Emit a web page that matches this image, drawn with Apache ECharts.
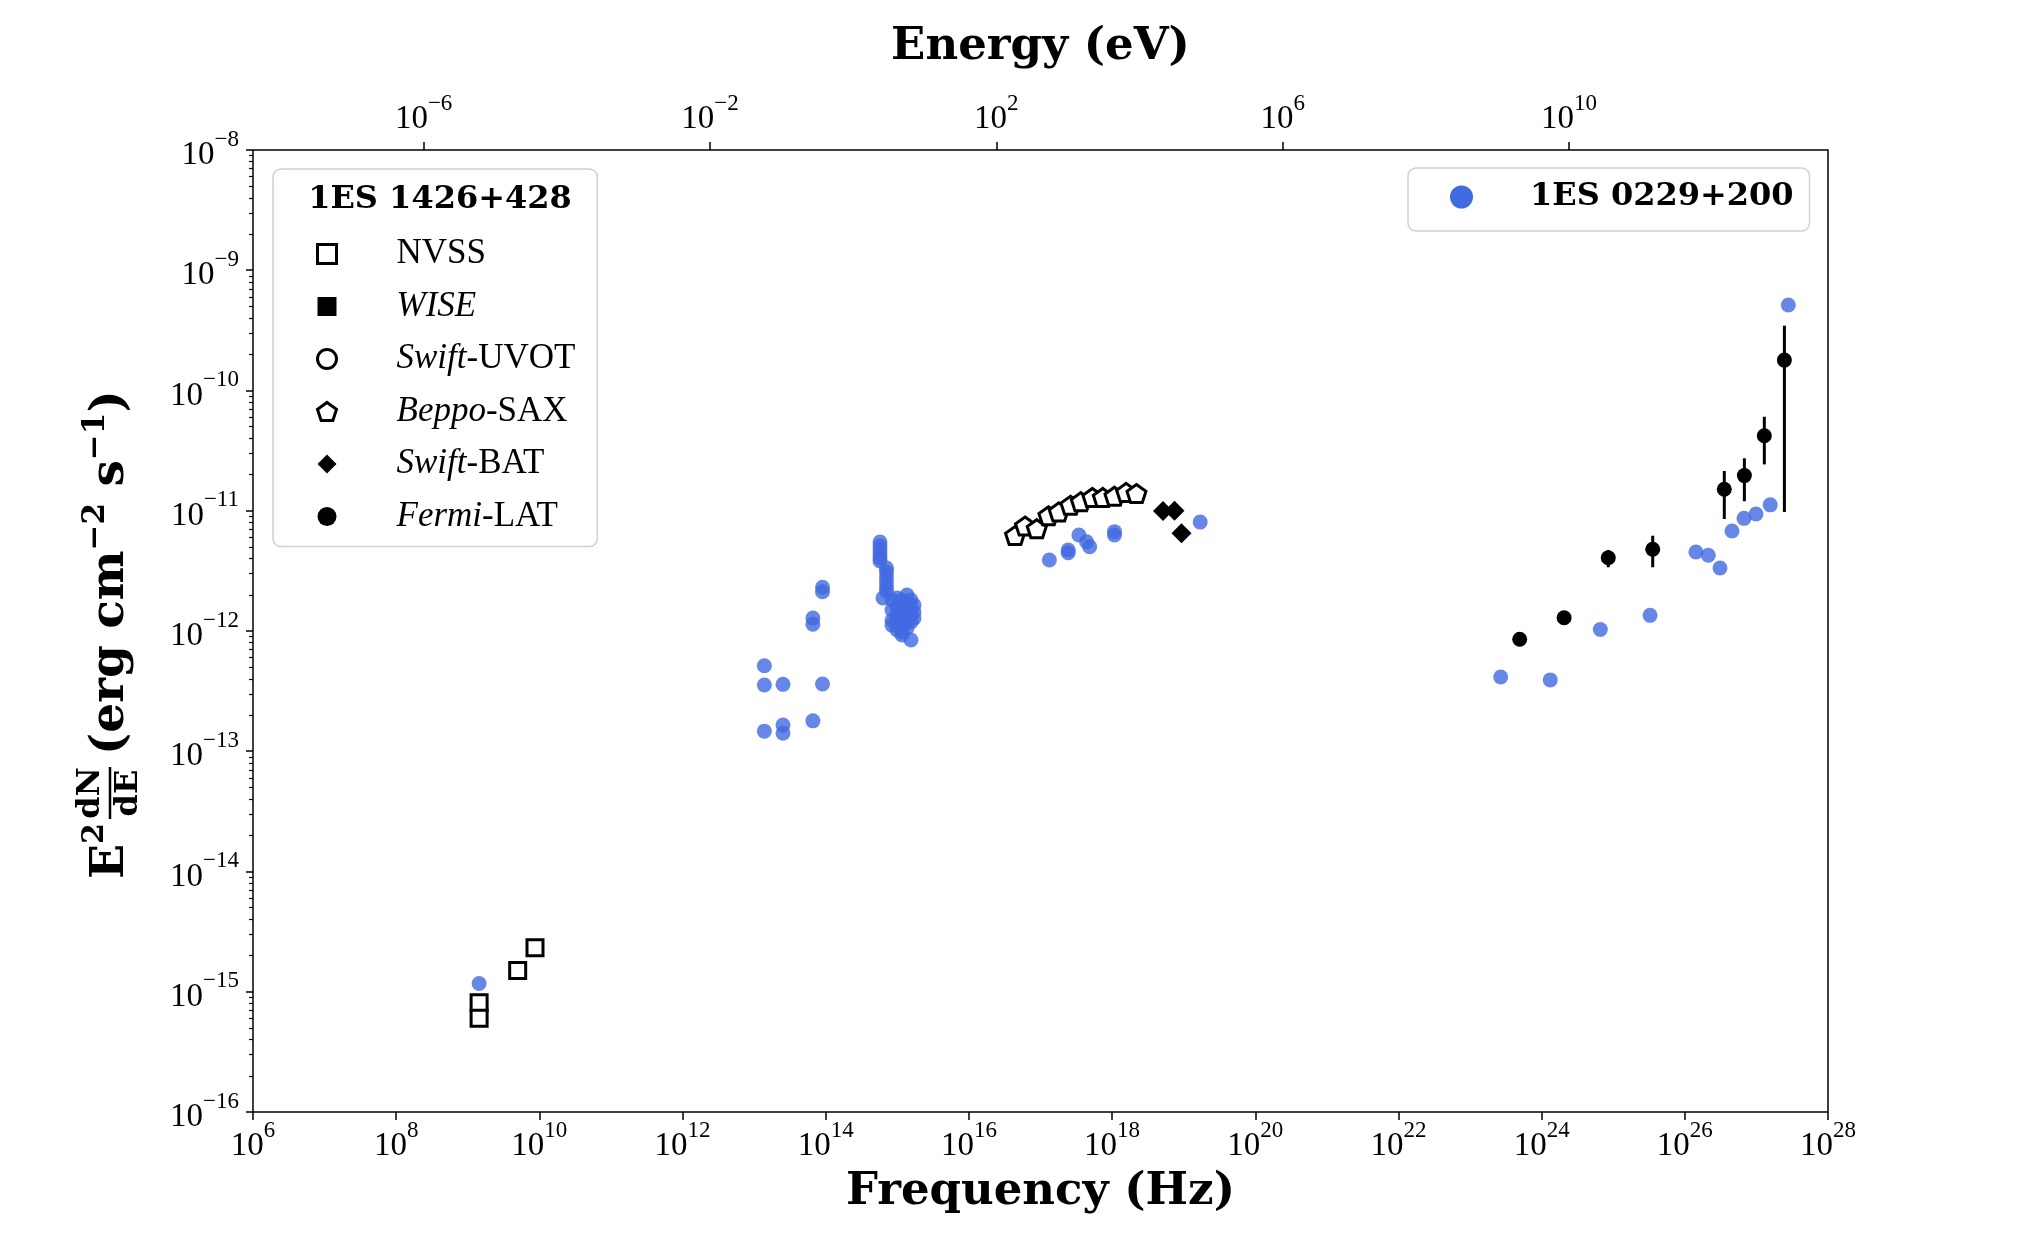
<!DOCTYPE html>
<html><head><meta charset="utf-8">
<script src="https://cdn.jsdelivr.net/npm/echarts@6/dist/echarts.min.js"></script>
<style>html,body{margin:0;padding:0;background:#fff}#c{width:2032px;height:1250px}</style>
</head><body><div id="c"></div>
<script>
// ---- Data (frequency in Hz, nuFnu in erg cm^-2 s^-1) ----
const nvssFreq = [1.44e9, 1.44e9, 4.98e9, 8.69e9];
const nvssFlux = [8.11e-16, 6.01e-16, 1.50e-15, 2.32e-15];

const beppoFreq = [4.41e16, 6.08e16, 8.86e16, 1.29e17, 1.80e17, 2.62e17, 3.66e17, 5.31e17, 7.42e17, 1.08e18, 1.57e18, 2.19e18];
const beppoFlux = [6.22e-12, 7.46e-12, 7.09e-12, 9.08e-12, 9.78e-12, 1.11e-11, 1.19e-11, 1.29e-11, 1.29e-11, 1.32e-11, 1.42e-11, 1.39e-11];

const batFreq = [5.14e18, 7.45e18, 9.33e18];
const batFlux = [9.95e-12, 1.00e-11, 6.49e-12];

const fermiFreq = [4.94e23, 2.06e24, 8.53e24, 3.56e25, 3.56e26, 6.79e26, 1.29e27, 2.46e27];
const fermiFlux = [8.53e-13, 1.29e-12, 4.07e-12, 4.78e-12, 1.51e-11, 1.96e-11, 4.21e-11, 1.79e-10];
const fermiLow  = [8.30e-13, 1.22e-12, 3.39e-12, 3.39e-12, 8.54e-12, 1.20e-11, 2.43e-11, 9.77e-12];
const fermiHigh = [8.80e-13, 1.34e-12, 4.71e-12, 6.20e-12, 2.14e-11, 2.73e-11, 6.05e-11, 3.46e-10];

const blueFreq = [
  1.44e9,
  1.39e13, 1.39e13, 1.39e13, 2.53e13, 2.53e13, 2.53e13,
  6.62e13, 6.62e13, 6.62e13, 9.02e13, 9.02e13, 9.02e13,
  5.73e14, 5.73e14, 5.73e14, 5.73e14, 5.73e14, 5.73e14,
  7.06e14, 7.06e14, 7.06e14, 7.06e14, 7.06e14, 7.06e14,
  6.31e14,
  8.43e14, 8.43e14, 8.43e14, 8.43e14,
  9.91e14, 9.91e14, 9.91e14, 9.91e14, 9.91e14,
  1.164e15, 1.164e15, 1.164e15, 1.164e15, 1.164e15, 1.164e15,
  1.366e15, 1.366e15, 1.366e15, 1.366e15, 1.366e15,
  1.552e15, 1.552e15, 1.552e15, 1.552e15, 1.552e15,
  1.71e15, 1.71e15, 1.71e15,
  1.33e17, 2.44e17, 2.44e17, 3.44e17, 4.40e17, 4.86e17, 1.08e18, 1.08e18, 1.70e19,
  2.68e23, 1.32e24, 6.60e24, 3.27e25, 1.43e26, 2.13e26, 3.10e26, 4.56e26, 6.71e26, 9.87e26, 1.56e27, 2.79e27
];
const blueFlux = [
  1.17e-15,
  5.14e-13, 3.56e-13, 1.47e-13, 3.60e-13, 1.65e-13, 1.41e-13,
  1.79e-13, 1.28e-12, 1.14e-12, 3.62e-13, 2.31e-12, 2.12e-12,
  5.50e-12, 5.09e-12, 4.72e-12, 4.37e-12, 4.05e-12, 3.82e-12,
  3.34e-12, 3.10e-12, 2.81e-12, 2.55e-12, 2.32e-12, 2.15e-12,
  1.88e-12,
  1.81e-12, 1.50e-12, 1.23e-12, 1.12e-12,
  1.88e-12, 1.61e-12, 1.36e-12, 1.19e-12, 1.02e-12,
  1.81e-12, 1.55e-12, 1.33e-12, 1.14e-12, 9.81e-13, 9.27e-13,
  1.99e-12, 1.71e-12, 1.44e-12, 1.23e-12, 1.06e-12,
  1.81e-12, 1.55e-12, 1.36e-12, 1.19e-12, 8.41e-13,
  1.64e-12, 1.44e-12, 1.28e-12,
  3.89e-12, 4.72e-12, 4.48e-12, 6.28e-12, 5.53e-12, 5.02e-12, 6.70e-12, 6.28e-12, 8.05e-12,
  4.14e-13, 3.92e-13, 1.03e-12, 1.35e-12, 4.54e-12, 4.27e-12, 3.34e-12, 6.79e-12, 8.65e-12, 9.40e-12, 1.12e-11, 5.14e-10
];

// ---- Tick values ----
const freqTicks = [1e6, 1e8, 1e10, 1e12, 1e14, 1e16, 1e18, 1e20, 1e22, 1e24, 1e26, 1e28];
const energyTicks = [1e-6, 1e-2, 1e2, 1e6, 1e10];
const fluxTicks = [1e-16, 1e-15, 1e-14, 1e-13, 1e-12, 1e-11, 1e-10, 1e-9, 1e-8];
const PLANCK_EV = 4.135667696e-15;

const fluxMinorTicks = [];
for (let e = -16; e < -8; e++) for (let m = 2; m <= 9; m++) fluxMinorTicks.push(m * Math.pow(10, e));

const zip = (a, b) => a.map((v, i) => [v, b[i]]);

const SERIF = 'Liberation Serif';
const BOLD = 'DejaVu Serif';
const BLUE = '#4169E1';
const PENTAGON = 'path://M50,0 L97.6,34.5 L79.4,90.5 L20.6,90.5 L2.4,34.5 Z';

function powLabel(v) {
  const e = Math.round(Math.log10(v));
  return '{b|10}{s|' + (e < 0 ? '\u2212' + (-e) : String(e)) + '}';
}
const tickRich = {
  b: {fontFamily: SERIF, fontSize: 33, lineHeight: 44, verticalAlign: 'bottom', color: '#000'},
  s: {fontFamily: SERIF, fontSize: 23, lineHeight: 24, verticalAlign: 'top', color: '#000'}
};
const nameStyle = {fontFamily: BOLD, fontWeight: 'bold', fontSize: 45, color: '#000'};

const legendNames = {
  'NVSS': 'NVSS', 'WISE': '{i|WISE}', 'Swift-UVOT': '{i|Swift}-UVOT',
  'Beppo-SAX': '{i|Beppo}-SAX', 'Swift-BAT': '{i|Swift}-BAT', 'Fermi-LAT': '{i|Fermi}-LAT'
};

const chart = echarts.init(document.getElementById('c'), null, {renderer: 'canvas'});
const gridPos = {left: 253, top: 150, width: 1575, height: 962};

chart.setOption({
  animation: false,
  backgroundColor: '#fff',
  grid: [
    Object.assign({show: true, borderColor: '#000', borderWidth: 1.5, backgroundColor: 'transparent'}, gridPos),
    Object.assign({show: false}, gridPos)
  ],
  xAxis: [
    {
      type: 'log', logBase: 10, gridIndex: 0, position: 'bottom', min: 1e6, max: 1e28,
      axisLine: {show: false}, splitLine: {show: false}, minorTick: {show: false},
      axisTick: {show: true, length: 8, lineStyle: {color: '#000', width: 1.5}, customValues: freqTicks},
      axisLabel: {customValues: freqTicks, formatter: powLabel, margin: 7, rich: tickRich},
      name: 'Frequency (Hz)', nameLocation: 'middle', nameGap: 58, nameTextStyle: nameStyle
    },
    {
      type: 'log', logBase: 10, gridIndex: 0, position: 'top', min: 1e6 * PLANCK_EV, max: 1e28 * PLANCK_EV,
      axisLine: {show: false}, splitLine: {show: false}, minorTick: {show: false},
      axisTick: {show: true, length: 8, lineStyle: {color: '#000', width: 1.5}, customValues: energyTicks},
      axisLabel: {customValues: energyTicks, formatter: powLabel, margin: 14, rich: tickRich},
      name: 'Energy (eV)', nameLocation: 'middle', nameGap: 80, nameTextStyle: nameStyle
    },
    {type: 'log', logBase: 10, gridIndex: 1, min: 1e6, max: 1e28, show: false}
  ],
  yAxis: [
    {
      type: 'log', logBase: 10, gridIndex: 0, position: 'left', min: 1e-16, max: 1e-8,
      axisLine: {show: false}, splitLine: {show: false}, minorTick: {show: false},
      axisTick: {show: true, length: 7, lineStyle: {color: '#000', width: 1.5}, customValues: fluxTicks},
      axisLabel: {customValues: fluxTicks, formatter: powLabel, margin: 14, rich: tickRich}
    },
    {
      type: 'log', logBase: 10, gridIndex: 1, position: 'left', min: 1e-16, max: 1e-8,
      axisLine: {show: false}, splitLine: {show: false}, axisLabel: {show: false},
      axisTick: {show: true, length: 4, lineStyle: {color: '#000', width: 1.2}, customValues: fluxMinorTicks}
    }
  ],
  legend: [
    {
      orient: 'vertical', left: 273, top: 169,
      padding: [65, 22, 10, 43],
      itemWidth: 19, itemHeight: 19, itemGap: 12.5,
      backgroundColor: '#fff', borderColor: '#d0d0d0', borderWidth: 1.5, borderRadius: 8,
      selectedMode: false,
      itemStyle: {borderWidth: 3},
      formatter: n => legendNames[n],
      textStyle: {
        fontFamily: SERIF, fontSize: 35, color: '#000', lineHeight: 40, padding: [0, 0, 0, 55],
        rich: {i: {fontFamily: SERIF, fontStyle: 'italic', fontSize: 35, lineHeight: 40, color: '#000'}}
      },
      data: [
        {name: 'NVSS', itemStyle: {color: '#fff', borderColor: '#000', borderWidth: 3, opacity: 1}},
        {name: 'WISE', itemStyle: {color: '#000', borderWidth: 0, opacity: 1}},
        {name: 'Swift-UVOT', itemStyle: {color: '#fff', borderColor: '#000', borderWidth: 3, opacity: 1}},
        {name: 'Beppo-SAX', itemStyle: {color: '#fff', borderColor: '#000', borderWidth: 3, opacity: 1}},
        {name: 'Swift-BAT', itemStyle: {color: '#000', borderWidth: 0, opacity: 1}},
        {name: 'Fermi-LAT', itemStyle: {color: '#000', borderWidth: 0, opacity: 1}}
      ]
    },
    {
      orient: 'horizontal', left: 1408, top: 168,
      padding: [9, 16, 14, 42],
      itemWidth: 23, itemHeight: 23,
      backgroundColor: '#fff', borderColor: '#d0d0d0', borderWidth: 1.5, borderRadius: 8,
      selectedMode: false,
      textStyle: {fontFamily: BOLD, fontWeight: 'bold', fontSize: 32, color: '#000', lineHeight: 40, padding: [0, 0, 0, 52]},
      data: [{name: '1ES 0229+200', icon: 'circle', itemStyle: {color: BLUE, opacity: 1}}]
    }
  ],
  graphic: [
    {
      type: 'text', x: 440, y: 200, z: 100,
      style: {text: '1ES 1426+428', fontFamily: BOLD, fontWeight: 'bold', fontSize: 32, fill: '#000', align: 'center', verticalAlign: 'middle'}
    },
    {
      type: 'group', x: 107, y: 879, rotation: Math.PI / 2, z: 100,
      children: [
        {
          type: 'text', x: 0, y: 0,
          style: {
            text: '{b|E}{s|2}', align: 'left', verticalAlign: 'middle',
            rich: {
              b: {fontFamily: BOLD, fontWeight: 'bold', fontSize: 46, lineHeight: 54, verticalAlign: 'bottom', fill: '#000'},
              s: {fontFamily: BOLD, fontWeight: 'bold', fontSize: 30, lineHeight: 30, verticalAlign: 'top', fill: '#000'}
            }
          }
        },
        {type: 'line', shape: {x1: 60, y1: 3, x2: 112, y2: 3}, style: {stroke: '#000', lineWidth: 2.5}},
        {type: 'text', x: 86, y: 0, style: {text: 'dN', fontFamily: BOLD, fontWeight: 'bold', fontSize: 32, fill: '#000', align: 'center', verticalAlign: 'bottom'}},
        {type: 'text', x: 86, y: 6, style: {text: 'dE', fontFamily: BOLD, fontWeight: 'bold', fontSize: 32, fill: '#000', align: 'center', verticalAlign: 'top'}},
        {
          type: 'text', x: 124, y: 0,
          style: {
            text: '{b|(erg cm}{s|\u22122}{b| s}{s|\u22121}{b|)}', align: 'left', verticalAlign: 'middle',
            rich: {
              b: {fontFamily: BOLD, fontWeight: 'bold', fontSize: 47, lineHeight: 54, verticalAlign: 'bottom', fill: '#000'},
              s: {fontFamily: BOLD, fontWeight: 'bold', fontSize: 31, lineHeight: 30, verticalAlign: 'top', fill: '#000'}
            }
          }
        }
      ]
    }
  ],
  series: [
    {
      type: 'scatter', name: '1ES 0229+200', xAxisIndex: 0, yAxisIndex: 0, z: 2,
      symbol: 'circle', symbolSize: 15, itemStyle: {color: BLUE, opacity: 0.8},
      data: zip(blueFreq, blueFlux)
    },
    {
      type: 'scatter', name: 'NVSS', xAxisIndex: 0, yAxisIndex: 0, z: 3,
      symbol: 'rect', symbolSize: 16, itemStyle: {color: '#fff', borderColor: '#000', borderWidth: 3, opacity: 1},
      data: zip(nvssFreq, nvssFlux)
    },
    {
      type: 'scatter', name: 'WISE', xAxisIndex: 0, yAxisIndex: 0, z: 3,
      symbol: 'rect', symbolSize: 14, itemStyle: {color: '#000', opacity: 1}, data: []
    },
    {
      type: 'scatter', name: 'Swift-UVOT', xAxisIndex: 0, yAxisIndex: 0, z: 3,
      symbol: 'circle', symbolSize: 15, itemStyle: {color: '#fff', borderColor: '#000', borderWidth: 3, opacity: 1}, data: []
    },
    {
      type: 'scatter', name: 'Beppo-SAX', xAxisIndex: 0, yAxisIndex: 0, z: 3,
      symbol: PENTAGON, symbolKeepAspect: true, symbolSize: 19,
      itemStyle: {color: '#fff', borderColor: '#000', borderWidth: 3, opacity: 1},
      data: zip(beppoFreq, beppoFlux)
    },
    {
      type: 'scatter', name: 'Swift-BAT', xAxisIndex: 0, yAxisIndex: 0, z: 3,
      symbol: 'diamond', symbolSize: 20, itemStyle: {color: '#000', opacity: 1},
      data: zip(batFreq, batFlux)
    },
    {
      type: 'custom', name: 'Fermi-LAT errors', xAxisIndex: 0, yAxisIndex: 0, z: 3,
      encode: {x: 0, y: [1, 2]},
      renderItem: function (params, api) {
        const p1 = api.coord([api.value(0), api.value(1)]);
        const p2 = api.coord([api.value(0), api.value(2)]);
        return {type: 'line', shape: {x1: p1[0], y1: p1[1], x2: p2[0], y2: p2[1]}, style: {stroke: '#000', lineWidth: 3}};
      },
      data: fermiFreq.map((f, i) => [f, fermiLow[i], fermiHigh[i]])
    },
    {
      type: 'scatter', name: 'Fermi-LAT', xAxisIndex: 0, yAxisIndex: 0, z: 4,
      symbol: 'circle', symbolSize: 15, itemStyle: {color: '#000', opacity: 1},
      data: zip(fermiFreq, fermiFlux)
    }
  ]
});
</script>
</body></html>
